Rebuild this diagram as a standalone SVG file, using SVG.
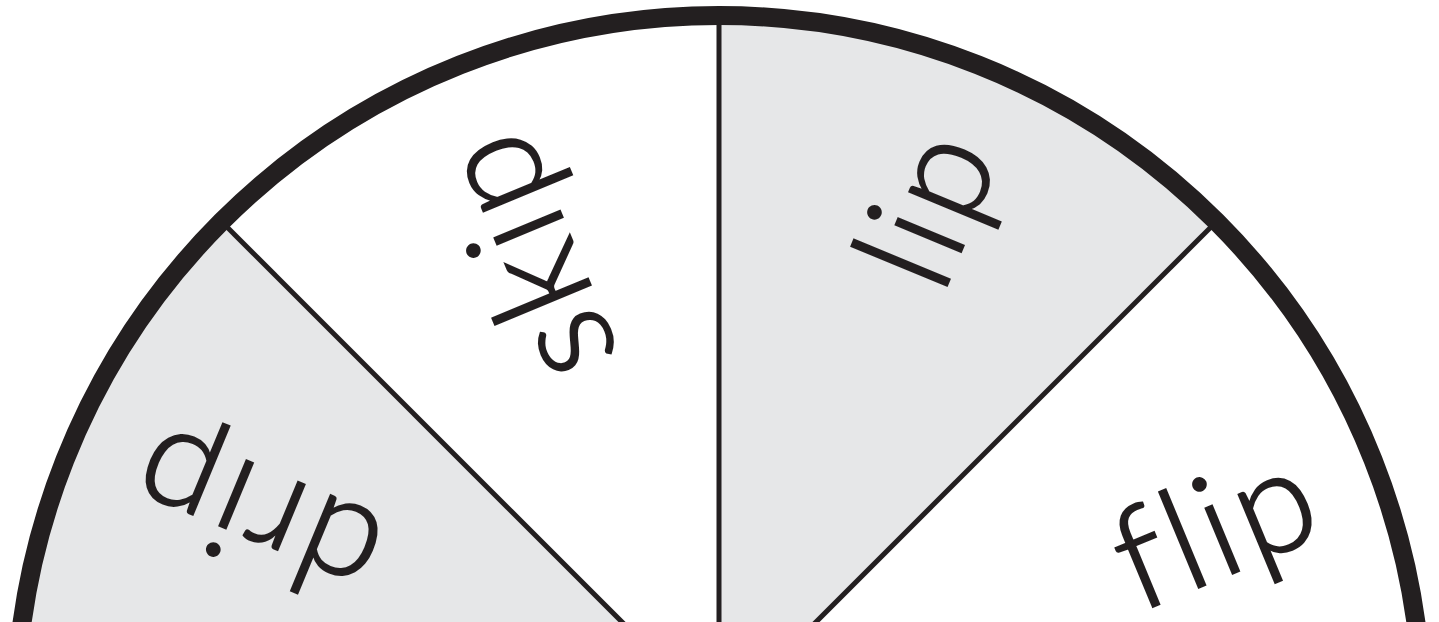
<svg xmlns="http://www.w3.org/2000/svg" width="1439" height="622" viewBox="0 0 1439 622">
<style>
.sector-gray{fill:#e6e7e8;}
.divider{stroke:#231f20;stroke-width:5;fill:none;}
.rim{stroke:#231f20;stroke-width:19;fill:none;}
.word{font-family:Lato,"Noto Sans","DejaVu Sans",sans-serif;font-size:142px;font-weight:300;fill:#231f20;stroke:#231f20;stroke-width:2.2;text-anchor:end;letter-spacing:5px;font-variant-ligatures:none;font-feature-settings:"liga" 0;}
</style>
<rect x="0" y="0" width="1439" height="622" fill="#ffffff"/>
<g id="sectors">
<path class="sector-gray" d="M719,719 L221.6,221.6 A703.5,703.5 0 0 0 15.5,719 Z"/>
<path class="sector-gray" d="M719,719 L719,15.5 A703.5,703.5 0 0 1 1216.4,221.6 Z"/>
</g>
<g id="connectors">
<line class="divider" x1="719" y1="719" x2="719" y2="15"/>
<line class="divider" x1="719" y1="719" x2="221" y2="221"/>
<line class="divider" x1="719" y1="719" x2="1217" y2="221"/>
<circle class="rim" cx="719" cy="719" r="703.5"/>
</g>
<g id="node-drip">
<text class="word" transform="translate(149,459) rotate(-157.5)" x="10" y="36">drip</text>
</g>
<g id="node-skip">
<text class="word" transform="translate(492,141) rotate(-112.5)" x="10" y="36">skip</text>
</g>
<g id="node-lip">
<text class="word" transform="translate(965,148) rotate(-67.5)" x="10" y="36">lip</text>
</g>
<g id="node-flip">
<text class="word" transform="translate(1309,503) rotate(-22.5)" x="10" y="36">flip</text>
</g>
</svg>
